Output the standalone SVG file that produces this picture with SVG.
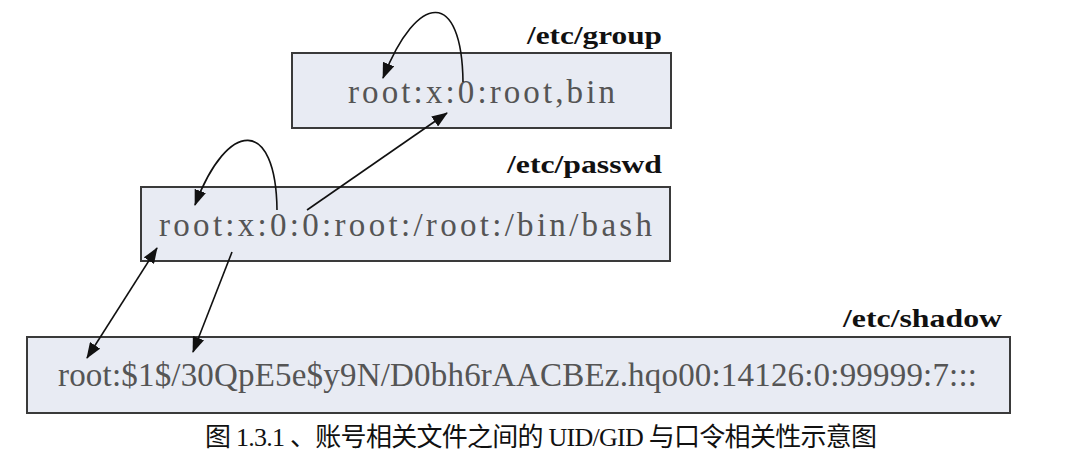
<svg xmlns="http://www.w3.org/2000/svg" width="1084" height="462" viewBox="0 0 1084 462">
<defs>
<style>
.box{fill:#e8ebf3;stroke:#3a3a3a;stroke-width:2}
.rec{font-family:"Liberation Serif",serif;font-size:33px;fill:#555}
.lbl{font-family:"Liberation Serif",serif;font-size:26px;font-weight:bold;fill:#111}
.cap{font-family:"Liberation Serif","Noto Sans CJK SC",serif;font-size:26px;fill:#111}
.con{fill:none;stroke:#111;stroke-width:1.6}
</style>
<marker id="ah" markerWidth="16" markerHeight="12" refX="15" refY="6" orient="auto" markerUnits="userSpaceOnUse">
<path d="M0,0 L16,6 L0,12 z" fill="#111"/>
</marker>
<marker id="as" markerWidth="16" markerHeight="12" refX="1" refY="6" orient="auto" markerUnits="userSpaceOnUse">
<path d="M16,0 L0,6 L16,12 z" fill="#111"/>
</marker>
</defs>
<rect width="1084" height="462" fill="#fff"/>
<g id="group">
<rect class="box" x="292" y="53" width="379" height="75"/>
<text class="lbl" x="527" y="44" textLength="135" lengthAdjust="spacingAndGlyphs">/etc/group</text>
<text class="rec" x="348" y="103" textLength="267" lengthAdjust="spacing">root:x:0:root,bin</text>
</g>
<g id="passwd">
<rect class="box" x="141" y="187" width="529" height="74"/>
<text class="lbl" x="507" y="173" textLength="155" lengthAdjust="spacingAndGlyphs">/etc/passwd</text>
<text class="rec" x="159" y="236" textLength="493" lengthAdjust="spacing">root:x:0:0:root:/root:/bin/bash</text>
</g>
<g id="shadow">
<rect class="box" x="27" y="337" width="983" height="76"/>
<text class="lbl" x="843" y="327" textLength="159" lengthAdjust="spacingAndGlyphs">/etc/shadow</text>
<text class="rec" x="58" y="386" textLength="919" lengthAdjust="spacing">root:$1$/30QpE5e$y9N/D0bh6rAACBEz.hqo00:14126:0:99999:7:::</text>
</g>
<g id="caption">
<text class="cap" x="205" y="446" textLength="672" lengthAdjust="spacing">图 1.3.1 、账号相关文件之间的 UID/GID 与口令相关性示意图</text>
</g>
<g id="connectors">
<path class="con" d="M463,82 C462,-10 418,-10 383,78" marker-end="url(#ah)"/>
<path class="con" d="M277,210 C276,118 228,118 195,205" marker-end="url(#ah)"/>
<path class="con" d="M307,210 L447,113" marker-end="url(#ah)"/>
<path class="con" d="M157,248 L87,358" marker-start="url(#as)" marker-end="url(#ah)"/>
<path class="con" d="M232,252 L193,352" marker-end="url(#ah)"/>
</g>
</svg>
